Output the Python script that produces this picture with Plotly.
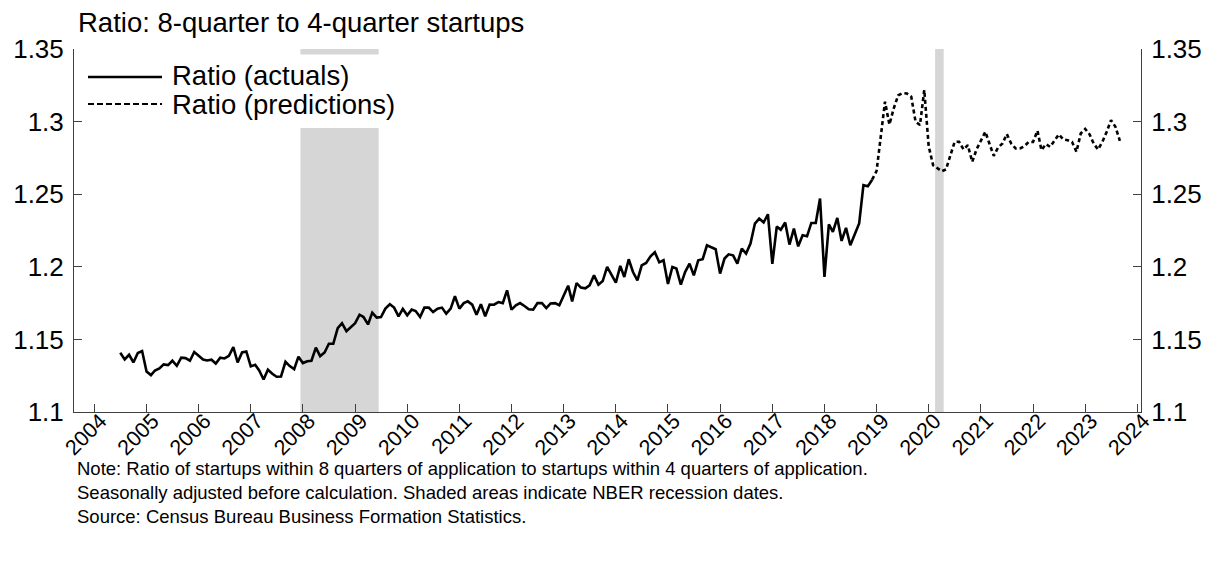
import plotly.graph_objects as go
import pandas as pd

# ---------------- data ----------------
actual_start = "2004-07-01"
actual_values = [
    # 2004 Jul-Dec
    1.1408, 1.1362, 1.1394, 1.1341, 1.1406, 1.1420,
    # 2005
    1.1279, 1.1254, 1.1286, 1.1300, 1.1328, 1.1323, 1.1353, 1.1318, 1.1374, 1.1371, 1.1353, 1.1413,
    # 2006
    1.1387, 1.1362, 1.1355, 1.1360, 1.1334, 1.1374, 1.1369, 1.1387, 1.1447, 1.1341, 1.1410, 1.1417,
    # 2007
    1.1314, 1.1325, 1.1286, 1.1224, 1.1291, 1.1263, 1.1243, 1.1245, 1.1346, 1.1316, 1.1295, 1.1381,
    # 2008
    1.1337, 1.1350, 1.1353, 1.1443, 1.1385, 1.1410, 1.1470, 1.1470, 1.1578, 1.1612, 1.1557, 1.1585,
    # 2009
    1.1612, 1.1670, 1.1654, 1.1603, 1.1684, 1.1650, 1.1654, 1.1712, 1.1742, 1.1719, 1.1659, 1.1710,
    # 2010
    1.1666, 1.1705, 1.1695, 1.1654, 1.1719, 1.1719, 1.1688, 1.1712, 1.1719, 1.1677, 1.1712, 1.1797,
    # 2011
    1.1712, 1.1750, 1.1762, 1.1739, 1.1670, 1.1742, 1.1659, 1.1740, 1.1739, 1.1757, 1.1750, 1.1838,
    # 2012
    1.1705, 1.1735, 1.1750, 1.1730, 1.1707, 1.1705, 1.1750, 1.1750, 1.1716, 1.1748, 1.1750, 1.1735,
    # 2013
    1.1808, 1.1870, 1.1762, 1.1888, 1.1857, 1.1852, 1.1872, 1.1941, 1.1877, 1.1902, 1.1999, 1.1946,
    # 2014
    1.1891, 1.2006, 1.1930, 1.2052, 1.1964, 1.1907, 1.2010, 1.2026, 1.2072, 1.2100, 1.2031, 1.2045,
    # 2015
    1.1882, 1.1999, 1.1988, 1.1877, 1.1964, 1.2022, 1.1941, 1.2045, 1.2052, 1.2148, 1.2137, 1.2121,
    # 2016
    1.1953, 1.2057, 1.2086, 1.2079, 1.2022, 1.2126, 1.2091, 1.2160, 1.2298, 1.2332, 1.2305, 1.2362,
    # 2017
    1.2020, 1.2277, 1.2255, 1.2305, 1.2153, 1.2263, 1.2141, 1.2217, 1.2210, 1.2302, 1.2302, 1.2470,
    # 2018
    1.1930, 1.2293, 1.2240, 1.2337, 1.2178, 1.2268, 1.2148, 1.2224, 1.2298, 1.2562, 1.2555, 1.2600,
]

pred_start = "2018-12-01"
pred_values = [
    # 2018 Dec
    1.2600,
    # 2019
    1.2660, 1.2910, 1.3137, 1.2980, 1.3090, 1.3180, 1.3197, 1.3194, 1.3171, 1.3000, 1.2976, 1.3217,
    # 2020
    1.2830, 1.2700, 1.2678, 1.2658, 1.2670, 1.2760, 1.2861, 1.2861, 1.2808, 1.2838, 1.2723, 1.2808,
    # 2021
    1.2872, 1.2930, 1.2849, 1.2764, 1.2822, 1.2849, 1.2914, 1.2849, 1.2815, 1.2815, 1.2830, 1.2860,
    # 2022
    1.2860, 1.2937, 1.2803, 1.2845, 1.2826, 1.2872, 1.2912, 1.2877, 1.2872, 1.2860, 1.2792, 1.2918,
    # 2023 Jan-Sep
    1.2950, 1.2912, 1.2850, 1.2808, 1.2860, 1.2930, 1.3010, 1.2964, 1.2868,
]

recessions = [("2007-12-15", "2009-06-15"), ("2020-02-15", "2020-04-15")]
years = list(range(2004, 2025))
y_ticks = [1.1, 1.15, 1.2, 1.25, 1.3, 1.35]
y_tick_text = ["1.1", "1.15", "1.2", "1.25", "1.3", "1.35"]

title_text = "Ratio: 8-quarter to 4-quarter startups"
legend_labels = ["Ratio (actuals)", "Ratio (predictions)"]
note_lines = [
    "Note: Ratio of startups within 8 quarters of application to startups within 4 quarters of application.",
    "Seasonally adjusted before calculation. Shaded areas indicate NBER recession dates.",
    "Source: Census Bureau Business Formation Statistics.",
]

# ---------------- figure ----------------
FONT = "Liberation Sans, Arial, Helvetica, sans-serif"
AXC = "#404040"
W, H = 1221, 566
L, R, T, B = 74, 80, 49, 154
pw, ph = W - L - R, H - T - B


def px_x(p):
    return (p - L) / pw


def px_y(p):
    return (H - B - p) / ph


actual_dates = pd.date_range(actual_start, periods=len(actual_values), freq="MS")
pred_dates = pd.date_range(pred_start, periods=len(pred_values), freq="MS")

fig = go.Figure()
fig.add_trace(go.Scatter(
    x=actual_dates, y=actual_values, mode="lines", name=legend_labels[0],
    line=dict(color="black", width=2.6), showlegend=False, hoverinfo="x+y"))
fig.add_trace(go.Scatter(
    x=pred_dates, y=pred_values, mode="lines", name=legend_labels[1],
    line=dict(color="black", width=2.6, dash="4px,3px"), showlegend=False, hoverinfo="x+y"))
# invisible trace so the right-hand axis is drawn
fig.add_trace(go.Scatter(
    x=[actual_dates[0]], y=[actual_values[0]], yaxis="y2", mode="markers",
    marker=dict(opacity=0), showlegend=False, hoverinfo="skip"))

shapes = []
for x0, x1 in recessions:
    shapes.append(dict(type="rect", xref="x", yref="paper", x0=x0, x1=x1, y0=0, y1=1,
                       fillcolor="#d6d6d6", line=dict(width=0), layer="below"))
# legend box
shapes.append(dict(type="rect", xref="paper", yref="paper",
                   x0=px_x(75), x1=px_x(404), y0=px_y(128), y1=px_y(54.5),
                   fillcolor="white", line=dict(width=0), layer="below"))
shapes.append(dict(type="line", xref="paper", yref="paper",
                   x0=px_x(88), x1=px_x(162), y0=px_y(77), y1=px_y(77),
                   line=dict(color="black", width=2.4)))
shapes.append(dict(type="line", xref="paper", yref="paper",
                   x0=px_x(88), x1=px_x(162), y0=px_y(104), y1=px_y(104),
                   line=dict(color="black", width=2.2, dash="6px,3px")))

annotations = [
    dict(text=title_text, xref="paper", yref="paper", x=px_x(76), y=px_y(22),
         xanchor="left", yanchor="middle", showarrow=False,
         font=dict(family=FONT, size=27.5, color="black")),
    dict(text=legend_labels[0], xref="paper", yref="paper", x=px_x(170), y=px_y(76),
         xanchor="left", yanchor="middle", showarrow=False,
         font=dict(family=FONT, size=27.5, color="black")),
    dict(text=legend_labels[1], xref="paper", yref="paper", x=px_x(170), y=px_y(104),
         xanchor="left", yanchor="middle", showarrow=False,
         font=dict(family=FONT, size=27.5, color="black")),
    # note block: one text, three lines
    dict(text="<br>".join(note_lines), xref="paper", yref="paper", x=px_x(75),
         y=px_y(456), xanchor="left", yanchor="top", align="left", showarrow=False,
         font=dict(family=FONT, size=18.5, color="black")),
]

yaxis_common = dict(range=[1.1, 1.35], tickmode="array", tickvals=y_ticks, ticktext=y_tick_text,
                    ticks="inside", ticklen=8, tickcolor=AXC, tickwidth=1,
                    showline=True, linecolor=AXC, linewidth=1, showgrid=False, zeroline=False,
                    tickfont=dict(family=FONT, size=26, color="black"), ticklabelstandoff=4,
                    fixedrange=True, automargin=False)

fig.update_layout(
    width=W, height=H, autosize=False,
    margin=dict(l=L, r=R, t=T, b=B, pad=0, autoexpand=False),
    paper_bgcolor="white", plot_bgcolor="white",
    font=dict(family=FONT, color="black"),
    xaxis=dict(type="date", range=["2003-08-12", "2024-01-27"],
               tickmode="array", tickvals=[f"{y}-01-01" for y in years],
               ticktext=[str(y) for y in years], tickangle=-45,
               ticks="inside", ticklen=8, tickcolor=AXC, tickwidth=1,
               showline=True, linecolor=AXC, linewidth=1, showgrid=False, zeroline=False,
               tickfont=dict(family=FONT, size=21.5, color="black"),
               ticklabelstandoff=-13, ticklabelshift=6,
               fixedrange=True, automargin=False),
    yaxis=yaxis_common,
    yaxis2=dict(yaxis_common, overlaying="y", side="right"),
    shapes=shapes,
    annotations=annotations,
    showlegend=False,
)

fig.write_html("out.html", config={"displayModeBar": False},
               post_script="document.body.style.margin='0px';document.body.style.padding='0px';")
